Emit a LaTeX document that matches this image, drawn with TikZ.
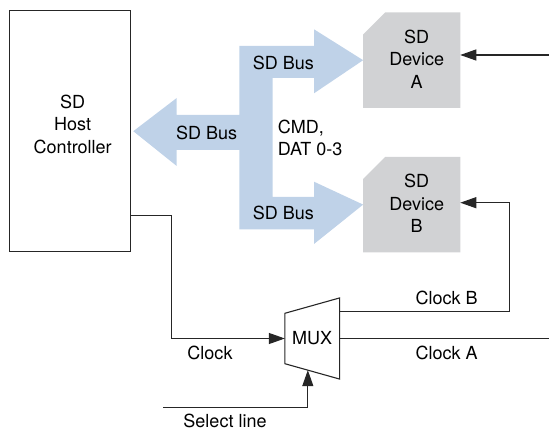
\documentclass[tikz,border=0pt]{standalone}
\usepackage{fontspec}
\setmainfont{TeX Gyre Heros}
\usetikzlibrary{positioning,arrows.meta,calc,backgrounds}
\definecolor{busblue}{RGB}{191,210,232}
\definecolor{cardgray}{RGB}{209,210,212}
\tikzset{
  wire/.style={line width=1.1pt, draw=black!85},
  sig/.style={wire, -{Triangle[length=16pt,width=11pt]}},
  txt/.style={font=\fontsize{18}{22.5}\selectfont, align=center, inner sep=0pt},
  hostbox/.style={draw=black!85, line width=1.1pt, minimum width=120.7pt, minimum height=241pt, inner sep=0pt},
  sdcard/.style={minimum width=96.7pt, minimum height=95pt, inner sep=0pt},
  muxbox/.style={txt, minimum width=54.3pt, minimum height=80.7pt}
}
\begin{document}
\begin{tikzpicture}[x=1pt, y=1pt, node distance=49pt and 40pt]
    \useasboundingbox (0,0) rectangle (549,-430);

    \node[hostbox, label={[txt, xshift=3pt, yshift=7pt]center:{SD\\Host\\Controller}}] (host) at (69.7,-131.2) {};
    \node[sdcard, label={[txt, xshift=5pt, yshift=1pt]center:{SD\\Device\\A}}] (devA) at (411.7,-60.2) {};
    \node[sdcard, below=of devA, label={[txt, xshift=5pt, yshift=1pt]center:{SD\\Device\\B}}] (devB) {};
    \node[muxbox] (mux) at (312.2,-338.5) {MUX};

    % card bodies with the cut corner
    \begin{scope}[on background layer]
      \foreach \card in {devA,devB}
        \fill[cardgray] (\card.south west) -- ([yshift=-22pt]\card.north west)
          -- ([xshift=22pt]\card.north west) -- (\card.north east) -- (\card.south east) -- cycle;
    \end{scope}

    % bus arrows
    \fill[busblue] ([xshift=2.7pt]host.east) -- (176.7,-98) -- (176.7,-115) -- (239.3,-115)
      -- (239.3,-46) -- (314,-46) -- (314,-29.3) -- (devA.west) -- (314,-93.3) -- (314,-78)
      -- (272.7,-78) -- (272.7,-197) -- (314,-197) -- (314,-181.7) -- (devB.west)
      -- (314,-244) -- (314,-229.5) -- (239.3,-229.5) -- (239.3,-150) -- (176.7,-150)
      -- (176.7,-166) -- cycle;
    \node[txt] (busL) at (206.7,-132.7) {SD Bus};
    \node[txt] (busA) at (283.3,-62.7) {SD Bus};
    \node[txt] (busB) at (283.3,-212.7) {SD Bus};
    \node[txt, align=left, anchor=west] (cmd) at (277.7,-138) {CMD,\\DAT 0-3};

    \draw[wire] (mux.north east) -- (mux.south east)
      -- ([yshift=15.35pt]mux.south west) coordinate[pos=0.58] (muxsel)
      -- ([yshift=-15.35pt]mux.north west) -- cycle;

    \coordinate (inA) at (549,-55);
    \coordinate (bturn) at (509.3,-202.7);
    \coordinate (clkA) at (549,-338.5);
    \coordinate (sel) at (163.3,-407.3);

    \draw[sig] (inA) -- (inA -| devA.east);
    \draw[sig] ([yshift=36.7pt]host.south east) -- ++(40.7,0) |- (mux.west);
    \draw[sig] ([yshift=27pt]mux.east) -| (bturn) -- (bturn -| devB.east);
    \draw[wire] (mux.east) -- (clkA);
    \draw[sig] (sel) -| (muxsel);

    \node[txt] (clk) at (210,-352.7) {Clock};
    \node[txt] (clkBlbl) at (446.7,-298.3) {Clock B};
    \node[txt] (clkAlbl) at (446.7,-352.7) {Clock A};
    \node[txt] (sellbl) at (225,-420.5) {Select line};

  \end{tikzpicture}
\end{document}
